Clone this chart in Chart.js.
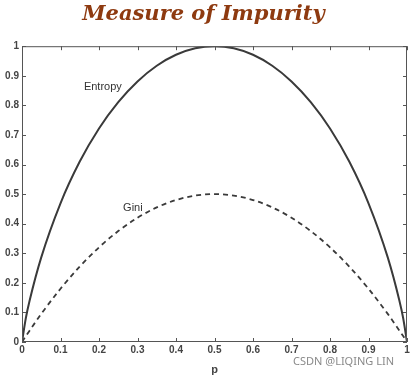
<!DOCTYPE html>
<html><head><meta charset="utf-8">
<script src="https://cdn.jsdelivr.net/npm/chart.js@4.4.1/dist/chart.umd.min.js"></script>
<style>
html,body{margin:0;padding:0;background:#fff;}
#wrap{position:relative;width:412px;height:377px;}
#wm{position:absolute;left:293px;top:353px;font:11px "Noto Sans",sans-serif;color:#8a8a8a;white-space:nowrap;}
</style></head>
<body><div id="wrap"><canvas id="c" width="412" height="377"></canvas><div id="wm">CSDN @LIQING LIN</div></div>
<script>
const pValues = [0,0.01,0.02,0.05,0.1,0.15,0.2,0.25,0.3,0.35,0.4,0.45,0.5,0.55,0.6,0.65,0.7,0.75,0.8,0.85,0.9,0.95,0.98,0.99,1];
const entropyValues = [0,0.081,0.141,0.286,0.469,0.610,0.722,0.811,0.881,0.934,0.971,0.993,1,0.993,0.971,0.934,0.881,0.811,0.722,0.610,0.469,0.286,0.141,0.081,0];
const giniValues = [0,0.020,0.039,0.095,0.180,0.255,0.320,0.375,0.420,0.455,0.480,0.495,0.500,0.495,0.480,0.455,0.420,0.375,0.320,0.255,0.180,0.095,0.039,0.020,0];
const tickLabels = ['0','0.1','0.2','0.3','0.4','0.5','0.6','0.7','0.8','0.9','1'];
const labels = [{text:"Entropy",x:0.21,y:0.862},{text:"Gini",x:0.288,y:0.453}];

const toPts = arr => pValues.map((p,i)=>({x:p,y:arr[i]}));
const axisColor = '#555';
const tickFont = {family:'"Liberation Sans", Arial, sans-serif', size:10, weight:'bold'};
const fmt = (v,i) => tickLabels[i];

const boxPlugin = {
  id:'box',
  afterDraw(chart){
    const {ctx, chartArea:a, scales:{x,y}} = chart;
    ctx.save();
    ctx.strokeStyle = axisColor; ctx.lineWidth = 1;
    ctx.strokeRect(a.left+0.5, a.top+0.5, a.right-a.left-1, a.bottom-a.top-1);
    const L = 4;
    ctx.beginPath();
    x.ticks.forEach(t=>{const px=Math.round(x.getPixelForValue(t.value))+0.5;
      ctx.moveTo(px,a.bottom); ctx.lineTo(px,a.bottom-L);
      ctx.moveTo(px,a.top); ctx.lineTo(px,a.top+L);});
    y.ticks.forEach(t=>{const py=Math.round(y.getPixelForValue(t.value))+0.5;
      ctx.moveTo(a.left,py); ctx.lineTo(a.left+L,py);
      ctx.moveTo(a.right,py); ctx.lineTo(a.right-L,py);});
    ctx.stroke();
    ctx.fillStyle = '#333';
    ctx.font = '11px "Liberation Sans", Arial, sans-serif';
    ctx.textAlign = 'center'; ctx.textBaseline = 'middle';
    labels.forEach(l=>ctx.fillText(l.text, x.getPixelForValue(l.x), y.getPixelForValue(l.y)));
    ctx.restore();
  }
};

new Chart(document.getElementById('c'), {
  type:'scatter',
  data:{datasets:[
    {label:'Entropy', data:toPts(entropyValues), showLine:true, borderColor:'#3a3a3a', borderWidth:2, pointRadius:0, cubicInterpolationMode:'monotone', fill:false},
    {label:'Gini', data:toPts(giniValues), showLine:true, borderColor:'#3a3a3a', borderWidth:1.8, borderDash:[5,4], pointRadius:0, cubicInterpolationMode:'monotone', fill:false}
  ]},
  options:{
    responsive:false, animation:false,
    layout:{padding:{left:0,right:5,top:0,bottom:0}},
    plugins:{
      legend:{display:false}, tooltip:{enabled:false},
      title:{display:true, text:'Measure of Impurity', color:'#8e3a10',
        font:{family:'"DejaVu Serif", serif', size:21, weight:'bold', style:'italic'},
        padding:{top:2,bottom:19}}
    },
    scales:{
      x:{type:'linear', min:0, max:1,
        ticks:{stepSize:0.1, color:'#444', font:tickFont, padding:2, maxRotation:0, autoSkip:false, callback:fmt},
        grid:{display:false, drawTicks:false}, border:{display:false},
        title:{display:true, text:'p', color:'#444', font:{family:'"Liberation Sans", Arial, sans-serif', size:11, weight:'bold'}, padding:{top:2,bottom:0}},
        afterFit(s){s.height=35;}
      },
      y:{type:'linear', min:0, max:1,
        ticks:{stepSize:0.1, color:'#444', font:tickFont, padding:3, autoSkip:false, callback:fmt},
        grid:{display:false, drawTicks:false}, border:{display:false},
        afterFit(s){s.width=22;}
      }
    }
  },
  plugins:[boxPlugin]
});
</script></body></html>
